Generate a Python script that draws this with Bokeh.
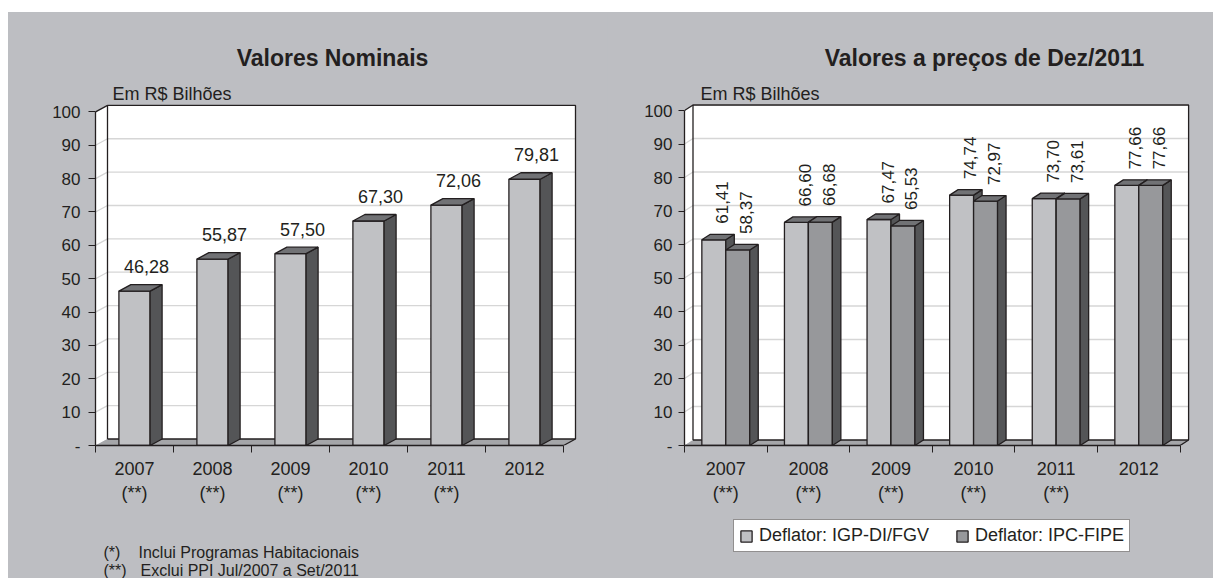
import numpy as np
from bokeh.plotting import figure
from bokeh.models import Range1d, FixedTicker, Label, Legend, LegendItem, Spacer
from bokeh.layouts import row, column
from bokeh.core.properties import value
from bokeh.embed import file_html
from bokeh.resources import INLINE

# ---------------- data ----------------
years = ["2007", "2008", "2009", "2010", "2011", "2012"]
year_notes = ["(**)", "(**)", "(**)", "(**)", "(**)", ""]
nominal = [46.28, 55.87, 57.50, 67.30, 72.06, 79.81]
igp_di = [61.41, 66.60, 67.47, 74.74, 73.70, 77.66]
ipc_fipe = [58.37, 66.68, 65.53, 72.97, 73.61, 77.66]
series_labels = ["Deflator: IGP-DI/FGV", "Deflator: IPC-FIPE"]
y_ticks = [0, 10, 20, 30, 40, 50, 60, 70, 80, 90, 100]
y_tick_overrides = {0: "-"}
title_left = "Valores Nominais"
title_right = "Valores a preços de Dez/2011"
unit_text = "Em R$ Bilhões"
footnote_marks = ["(*)", "(**)"]
footnote_texts = ["Inclui Programas Habitacionais", "Exclui PPI Jul/2007 a Set/2011"]

# ---------------- style ----------------
FONT = "Liberation Sans"
BG = "#bdbec2"
INK = "#231f20"
WALL = "#ffffff"
FLOOR = "#a5a6a9"
GRID = "#d6d6d6"
FRONT1 = "#c0c1c4"
FRONT2 = "#97989b"
SIDE = "#545557"
TOP = "#717275"
TOP_Y = 12      # page y of the charts' top
HC = 496        # chart figure height
HF = 70         # footer figure height


def fmt(v):
    return f"{v:.2f}".replace(".", ",")


def make_chart(cfg):
    W, fl, fr, fb = cfg["W"], cfg["fl"], cfg["fr"], cfg["fb"]
    cx, uy = cfg["cat_px"], cfg["unit_px"]
    p = figure(width=W, height=HC,
               x_range=Range1d(0, (fr - fl) / cx), y_range=Range1d(0, fb / uy),
               min_border_left=fl, min_border_right=W - fr,
               min_border_top=0, min_border_bottom=HC - fb,
               output_backend="svg", toolbar_location=None, tools="", title=None,
               background_fill_color=BG, border_fill_color=BG, outline_line_color=None)
    p.xgrid.visible = False
    p.ygrid.visible = False
    n = len(years)
    dx = cfg["dx"] / cx
    dy = cfg["dy"] / uy
    top = y_ticks[-1]

    # walls & floor
    p.patch([0, dx, dx, 0], [0, dy, top + dy, top], fill_color=WALL, line_color=None)
    p.quad(left=[dx], right=[n + dx], bottom=[dy], top=[top + dy], fill_color=WALL, line_color=None)
    p.patch([0, n, n + dx, dx], [0, 0, dy, dy], fill_color=FLOOR, line_color=None)
    gx = [[0, dx, n + dx] for t in y_ticks[1:]]
    gy = [[t, t + dy, t + dy] for t in y_ticks[1:]]
    p.multi_line(gx, gy, line_color=GRID, line_width=1.3)
    p.multi_line([[dx, dx, n + dx, n + dx], [0, dx], [n, n + dx], [dx, n + dx]],
                 [[dy, top + dy, top + dy, dy], [top, top + dy], [0, dy], [dy, dy]],
                 line_color=INK, line_width=1.3)

    # axes
    ya = p.yaxis[0]
    ya.ticker = FixedTicker(ticks=y_ticks)
    ya.major_label_overrides = y_tick_overrides
    ya.bounds = (0, top)
    ya.axis_line_color = INK
    ya.axis_line_width = 1.3
    ya.major_tick_line_color = INK
    ya.major_tick_out = cfg["ytick"]
    ya.major_tick_in = 0
    ya.major_label_standoff = cfg["ystand"]
    ya.major_label_text_font = FONT
    ya.major_label_text_font_size = "17px"
    ya.major_label_text_color = INK

    xa = p.xaxis[0]
    xa.ticker = FixedTicker(ticks=[i + 0.5 for i in range(n)], minor_ticks=list(range(n + 1)))
    xa.major_label_overrides = {i + 0.5: (years[i] + "\n" + year_notes[i]) if year_notes[i] else years[i]
                                for i in range(n)}
    xa.bounds = (0, n)
    xa.axis_line_color = INK
    xa.axis_line_width = 1.3
    xa.major_tick_out = 0
    xa.major_tick_in = 0
    xa.minor_tick_out = 7
    xa.minor_tick_in = 0
    xa.minor_tick_line_color = INK
    xa.major_label_standoff = 6
    xa.major_label_text_font = FONT
    xa.major_label_text_font_size = "18px"
    xa.major_label_text_color = INK
    return p, dx, dy


def draw_bars(p, x0s, w, vals, color, dx, dy):
    x1s = [x + w for x in x0s]
    r = p.quad(left=x0s, right=x1s, bottom=0, top=vals, fill_color=color,
               line_color=INK, line_width=1.3)
    p.patches([[x1, x1 + dx, x1 + dx, x1] for x1 in x1s],
              [[0, dy, v + dy, v] for v in vals], fill_color=SIDE, line_color=INK, line_width=1.3)
    p.patches([[x0, x0 + dx, x1 + dx, x1] for x0, x1 in zip(x0s, x1s)],
              [[v, v + dy, v + dy, v] for v in vals], fill_color=TOP, line_color=INK, line_width=1.3)
    return r


def page_label(p, cfg, px, py, text, size, bold=False, align="left"):
    x = (px - cfg["ox"] - cfg["fl"]) / cfg["cat_px"]
    y = (cfg["fb"] - (py - TOP_Y)) / cfg["unit_px"]
    p.add_layout(Label(x=x, y=y, text=text, text_font=FONT, text_font_size=size,
                       text_font_style="bold" if bold else "normal", text_color=INK,
                       text_align=align, text_baseline="middle"))


def make_footer(W):
    f = figure(width=W, height=HF, x_range=Range1d(0, W), y_range=Range1d(HF, 0),
               min_border=0, x_axis_location=None, y_axis_location=None,
               output_backend="svg", toolbar_location=None, tools="", title=None,
               background_fill_color=BG, border_fill_color=BG, outline_line_color=None)
    f.grid.visible = False
    return f


# ---------------- left chart ----------------
cfgL = dict(W=599, ox=8, fl=87, fr=569, fb=433, cat_px=78.0, unit_px=3.336,
            dx=12, dy=6.5, ytick=7, ystand=8)
p1, dx1, dy1 = make_chart(cfgL)
wL = 0.4
x0L = [i + 0.5 - wL / 2 for i in range(len(years))]
draw_bars(p1, x0L, wL, nominal, FRONT1, dx1, dy1)
p1.text(x=[x + wL / 2 + dx1 for x in x0L], y=[v + 24.5 / cfgL["unit_px"] for v in nominal],
        text=[fmt(v) for v in nominal], text_font=value(FONT), text_font_size="18px",
        text_align="center", text_baseline="middle", text_color=INK)
page_label(p1, cfgL, 332, 57, title_left, "23px", bold=True, align="center")
page_label(p1, cfgL, 112, 93, unit_text, "18px")

# ---------------- right chart ----------------
cfgR = dict(W=606, ox=607, fl=77, fr=583, fb=433, cat_px=82.6, unit_px=3.35,
            dx=8.5, dy=5.5, ytick=6, ystand=6)
p2, dx2, dy2 = make_chart(cfgR)
wR = 0.29
x0a = [i + 0.5 - wR for i in range(len(years))]
x0b = [i + 0.5 for i in range(len(years))]
draw_bars(p2, x0a, wR, igp_di, FRONT1, dx2, dy2)
draw_bars(p2, x0b, wR, ipc_fipe, FRONT2, dx2, dy2)
for xs0, vals in ((x0a, igp_di), (x0b, ipc_fipe)):
    p2.text(x=[x + wR / 2 + dx2 for x in xs0], y=[v + 16 / cfgR["unit_px"] for v in vals],
            text=[fmt(v) for v in vals], angle=np.pi / 2, text_font=value(FONT),
            text_font_size="17px", text_align="left", text_baseline="middle", text_color=INK)
page_label(p2, cfgR, 984, 57, title_right, "23px", bold=True, align="center")
page_label(p2, cfgR, 700, 93, unit_text, "18px")

# ---------------- footers ----------------
f1 = make_footer(599)
f1.text(x=[95, 95], y=[43.5, 61.5], text=footnote_marks, text_font=value(FONT),
        text_font_size="16px", text_align="left", text_baseline="middle", text_color=INK)
f1.text(x=[130, 132], y=[43.5, 61.5], text=footnote_texts, text_font=value(FONT),
        text_font_size="16px", text_align="left", text_baseline="middle", text_color=INK)

f2 = make_footer(606)
# legend swatches only (no visible marks in the footer)
lr1 = f2.quad(left=[np.nan], right=[np.nan], bottom=[np.nan], top=[np.nan],
              fill_color=FRONT1, line_color=INK, line_width=1.3)
lr2 = f2.quad(left=[np.nan], right=[np.nan], bottom=[np.nan], top=[np.nan],
              fill_color=FRONT2, line_color=INK, line_width=1.3)
legend = Legend(items=[LegendItem(label=series_labels[0], renderers=[lr1]),
                       LegendItem(label=series_labels[1], renderers=[lr2])],
                orientation="horizontal", location=(126, 26),
                border_line_color=INK, border_line_width=1.5,
                background_fill_color="white", background_fill_alpha=1.0,
                label_text_font=FONT, label_text_font_size="18px", label_text_color=INK,
                glyph_width=14, glyph_height=14, label_standoff=6, spacing=26,
                padding=5, margin=0)
f2.add_layout(legend, "center")

body = column(row(p1, p2), row(f1, f2), styles={"background-color": BG})
page = column(Spacer(height=TOP_Y), row(Spacer(width=8), body))
open("out.html", "w").write(file_html(page, INLINE))
